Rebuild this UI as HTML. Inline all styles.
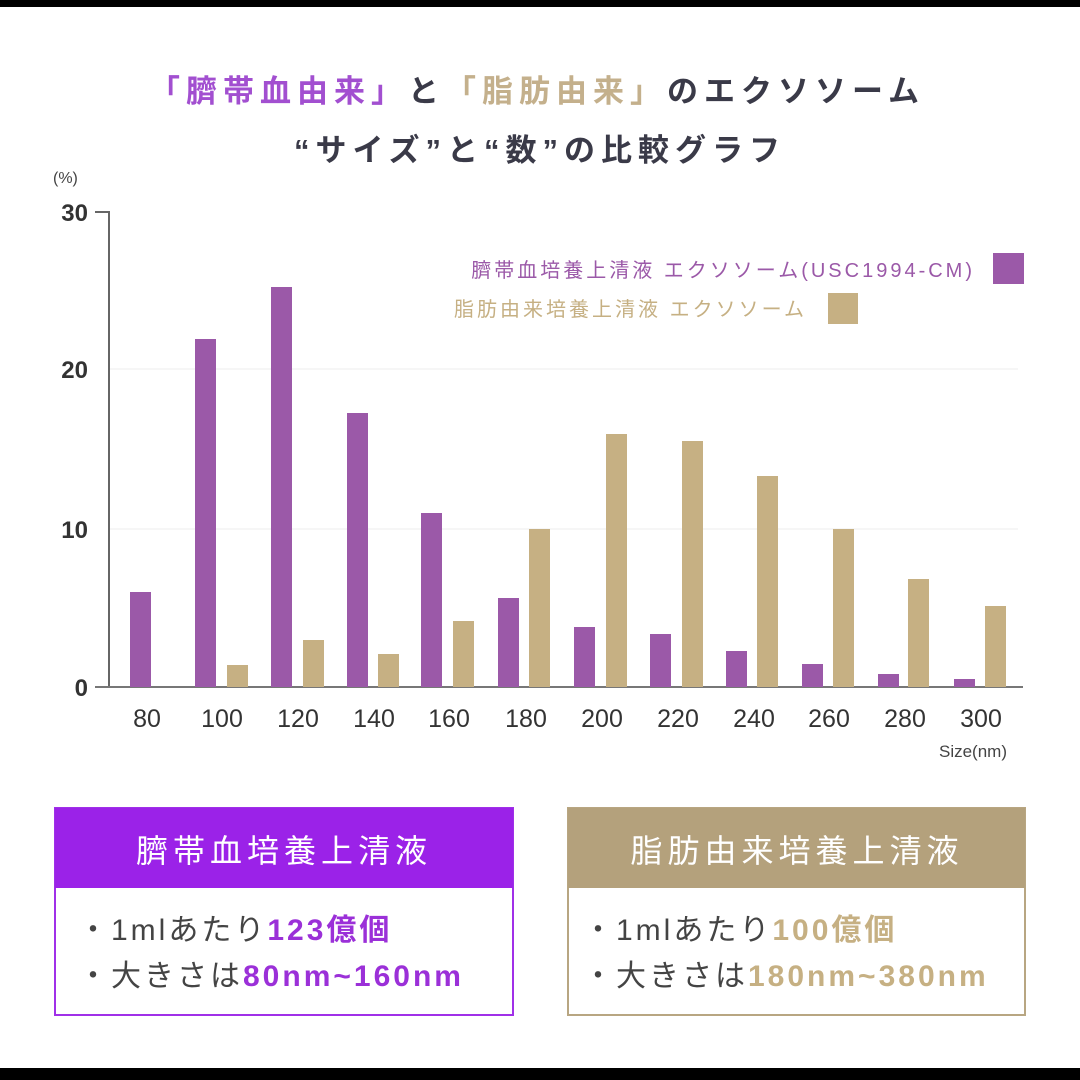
<!DOCTYPE html>
<html><head><meta charset="utf-8"><style>
body{margin:0;width:1080px;height:1080px;background:#fff;overflow:hidden}
svg{display:block}
text{font-family:"Liberation Sans","Noto Sans CJK JP",sans-serif}
</style></head><body>
<svg width="1080" height="1080" viewBox="0 0 1080 1080">
<rect x="0" y="0" width="1080" height="7" fill="#000"/>
<rect x="0" y="1068" width="1080" height="12" fill="#000"/>
<text x="537" y="102" text-anchor="middle" font-size="31" font-weight="bold" fill="#3a3a48" letter-spacing="6"><tspan fill="#a24fd0">「臍帯血由来」</tspan>と<tspan fill="#c4b08c">「脂肪由来」</tspan>のエクソソーム</text>
<text x="540" y="161" text-anchor="middle" font-size="31" font-weight="bold" fill="#3a3a48" letter-spacing="6">“サイズ”と“数”の比較グラフ</text>
<text x="53" y="183" font-size="16" fill="#444">(%)</text>
<g font-size="24" fill="#333" text-anchor="end" font-weight="bold">
<text x="88" y="221">30</text><text x="88" y="378">20</text><text x="88" y="538">10</text><text x="88" y="696">0</text>
</g>
<line x1="109" y1="369" x2="1018" y2="369" stroke="#eee" stroke-width="1"/>
<line x1="109" y1="529" x2="1018" y2="529" stroke="#eee" stroke-width="1"/>
<polyline points="95,212 109,212 109,687" fill="none" stroke="#666" stroke-width="2"/>
<line x1="95" y1="687" x2="1023" y2="687" stroke="#777" stroke-width="2"/>
<g fill="#9b59a8">
<rect x="130" y="592" width="21" height="95"/>
<rect x="195" y="339" width="21" height="348"/>
<rect x="271" y="287" width="21" height="400"/>
<rect x="347" y="413" width="21" height="274"/>
<rect x="421" y="513" width="21" height="174"/>
<rect x="498" y="598" width="21" height="89"/>
<rect x="574" y="627" width="21" height="60"/>
<rect x="650" y="634" width="21" height="53"/>
<rect x="726" y="651" width="21" height="36"/>
<rect x="802" y="664" width="21" height="23"/>
<rect x="878" y="674" width="21" height="13"/>
<rect x="954" y="679" width="21" height="8"/>
</g>
<g fill="#c6b083">
<rect x="227" y="665" width="21" height="22"/>
<rect x="303" y="640" width="21" height="47"/>
<rect x="378" y="654" width="21" height="33"/>
<rect x="453" y="621" width="21" height="66"/>
<rect x="529" y="529" width="21" height="158"/>
<rect x="606" y="434" width="21" height="253"/>
<rect x="682" y="441" width="21" height="246"/>
<rect x="757" y="476" width="21" height="211"/>
<rect x="833" y="529" width="21" height="158"/>
<rect x="908" y="579" width="21" height="108"/>
<rect x="985" y="606" width="21" height="81"/>
</g>
<text x="975" y="277" text-anchor="end" font-size="20" fill="#9b59a8" letter-spacing="3">臍帯血培養上清液 エクソソーム(USC1994-CM)</text>
<rect x="993" y="253" width="31" height="31" fill="#9b59a8"/>
<text x="807" y="316" text-anchor="end" font-size="20" fill="#c6b083" letter-spacing="3">脂肪由来培養上清液 エクソソーム</text>
<rect x="828" y="293" width="30" height="31" fill="#c6b083"/>
<g font-size="25" fill="#333" text-anchor="middle">
<text x="147" y="727">80</text><text x="222" y="727">100</text><text x="298" y="727">120</text><text x="374" y="727">140</text><text x="449" y="727">160</text><text x="526" y="727">180</text><text x="602" y="727">200</text><text x="678" y="727">220</text><text x="754" y="727">240</text><text x="829" y="727">260</text><text x="905" y="727">280</text><text x="981" y="727">300</text>
</g>
<text x="1007" y="757" text-anchor="end" font-size="17" fill="#444">Size(nm)</text>
<rect x="55" y="808" width="458" height="207" fill="#fff" stroke="#a030e8" stroke-width="2"/>
<rect x="55" y="808" width="458" height="80" fill="#9b22e8"/>
<text x="284" y="862" text-anchor="middle" font-size="32" fill="#fff" letter-spacing="5">臍帯血培養上清液</text>
<text x="78" y="940" font-size="30" fill="#444" letter-spacing="3">・1mlあたり<tspan fill="#9b30d8" font-weight="bold">123億個</tspan></text>
<text x="78" y="986" font-size="30" fill="#444" letter-spacing="3">・大きさは<tspan fill="#9b30d8" font-weight="bold">80nm~160nm</tspan></text>
<rect x="568" y="808" width="457" height="207" fill="#fff" stroke="#b8a682" stroke-width="2"/>
<rect x="568" y="808" width="457" height="80" fill="#b4a17c"/>
<text x="797" y="862" text-anchor="middle" font-size="32" fill="#fff" letter-spacing="5">脂肪由来培養上清液</text>
<text x="583" y="940" font-size="30" fill="#444" letter-spacing="3">・1mlあたり<tspan fill="#c6b083" font-weight="bold">100億個</tspan></text>
<text x="583" y="986" font-size="30" fill="#444" letter-spacing="3">・大きさは<tspan fill="#c6b083" font-weight="bold">180nm~380nm</tspan></text>
</svg>
</body></html>
